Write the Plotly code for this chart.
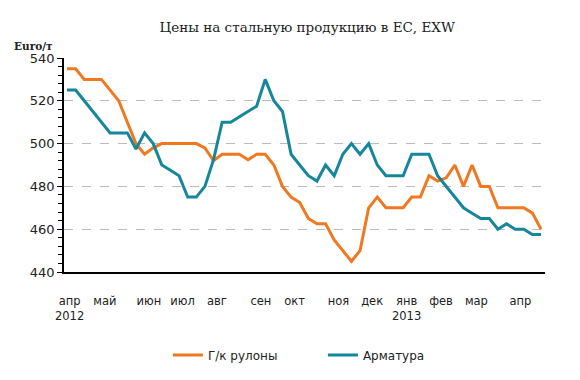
import plotly.graph_objects as go

weeks = list(range(56))

hr_coil = [535, 535, 530, 530, 530, 525, 520, 510, 500, 495,
           498, 500, 500, 500, 500, 500, 498, 492, 495, 495,
           495, 492.5, 495, 495, 490, 480, 475, 472.5, 465, 462.5,
           462.5, 455, 450, 445, 450, 470, 475, 470, 470, 470,
           475, 475, 485, 482.5, 484, 490, 480, 490, 480, 480,
           470, 470, 470, 470, 467.5, 460]

rebar = [525, 525, 520, 515, 510, 505, 505, 505, 497.5, 505,
         500, 490, 487.5, 485, 475, 475, 480, 492.5, 510, 510,
         512.5, 515, 517.5, 530, 520, 515, 495, 490, 485, 482.5,
         490, 485, 495, 500, 495, 500, 490, 485, 485, 485,
         495, 495, 495, 485, 480, 475, 470, 467.5, 465, 465,
         460, 462.5, 460, 460, 457.5, 457.5]

month_pos = [0.3, 4.4, 9.5, 13.4, 17.4, 22.5, 26.4, 31.5, 35.4, 39.4, 43.4, 47.5, 52.6]
month_labels = ["апр<br>2012", "май", "июн", "июл", "авг", "сен", "окт",
                "ноя", "дек", "янв<br>2013", "фев", "мар", "апр"]

y_ticks = [440, 460, 480, 500, 520, 540]

fig = go.Figure()
fig.add_trace(go.Scatter(x=weeks, y=hr_coil, mode="lines", name="Г/к рулоны",
                         line=dict(color="#F07820", width=3)))
fig.add_trace(go.Scatter(x=weeks, y=rebar, mode="lines", name="Арматура",
                         line=dict(color="#16869A", width=3)))

fig.update_layout(
    width=572, height=372,
    margin=dict(l=56, r=35, t=50, b=108, autoexpand=False),
    paper_bgcolor="white", plot_bgcolor="white",
    title=dict(text="Цены на стальную продукцию в ЕС, EXW", x=0.523, xanchor="center",
               y=0.949, yanchor="middle",
               font=dict(family="DejaVu Serif", size=13.5, color="#222")),
    font=dict(family="DejaVu Sans", size=12, color="#222"),
    showlegend=True,
    legend=dict(orientation="h", x=0.216, xanchor="left", y=-0.388, yanchor="middle",
                font=dict(family="DejaVu Sans", size=12, color="#222"),
                entrywidth=110, entrywidthmode="pixels", tracegroupgap=0),
    xaxis=dict(range=[-0.35, 55.46], tickmode="array", tickvals=month_pos,
               ticktext=month_labels, showgrid=False, zeroline=False,
               showline=True, linecolor="#000", linewidth=1.5, ticks="",
               ticklabelstandoff=17, tickfont=dict(size=11.5), automargin=False),
    yaxis=dict(range=[440, 540], tickmode="array", tickvals=y_ticks,
               showgrid=True, gridcolor="#bbbbbb", griddash="dash", gridwidth=1,
               zeroline=False, showline=True, linecolor="#000", linewidth=1.5,
               ticks="outside", ticklen=5, tickcolor="#000",
               minor=dict(dtick=4, ticks="outside", ticklen=4, tickcolor="#000", showgrid=False),
               tickfont=dict(size=13), automargin=False),
)

fig.add_annotation(text="<b>Euro/т</b>", xref="paper", yref="paper", x=-0.0644, y=1.056,
                   xanchor="center", yanchor="middle", showarrow=False,
                   font=dict(family="DejaVu Serif", size=10.5, color="#222"))

fig.write_html("out.html")
